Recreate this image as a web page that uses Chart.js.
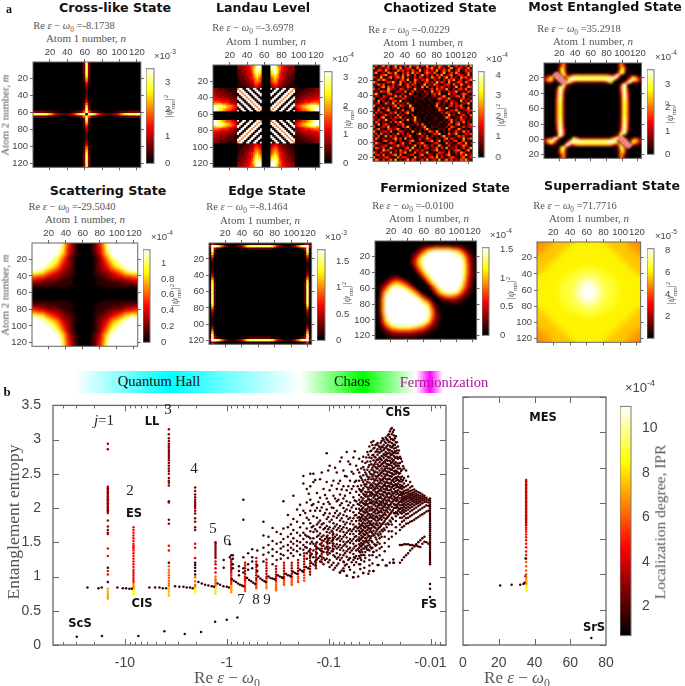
<!DOCTYPE html>
<html>
<head>
<meta charset="utf-8">
<script src="https://cdn.jsdelivr.net/npm/chart.js@4"></script>
<style>
body { margin: 0; background: #fff; width: 685px; height: 686px; overflow: hidden; position: relative; }
canvas { position: absolute; }
.lbl { position: absolute; white-space: nowrap; transform: translate(-50%, -50%); line-height: 1; }
.title { font: bold 12.6px "DejaVu Sans"; color: #111; }
.serif { font-family: "Liberation Serif"; color: #555; }
.tag { font: bold 11.5px "DejaVu Sans"; color: #111; }
sub, sup { font-size: 70%; line-height: 0; }
</style>
</head>
<body>
<script>
// heat map values, one hex digit per cell (0 = bottom of colour bar, f = top)
// the "Quarter" maps hold the top left quarter of a picture that is mirror symmetric
const crossQuarter = [
  "00000000000000000003f","00000000000000000003f","00000000000000000003f","00000000000000000003f",
  "00000000000000000003e","00000000000000000002d","00000000000000000002b","000000000000000000029",
  "000000000000000000016","000000000000000000014","000000000000000000003","000000000000000000002",
  "000000000000000000002","000000000000000000003","000000000000000000014","000000000000000000016",
  "000000000000000000029","00000000000000000002c","00000000000000000003f","33333222110000112238f",
  "ffffedb9643223469cff1"
];
// landau level map: glow above the centre squares, and the striped square itself
const landauBand = [
  "3334455779cfff","3334455689cfff","333344568adfee","223344567adfdc","223334557acecb","2233344569cdba","2223344568bca9",
  "1222334568ab98","12223345679a87","11222334569987","11222334468876","11122233457765","11112223346654","11111223345543"
];
const landauSquare = [
  "8ff10ff10ff10f","f8ff10ff10ff10","ff8ff10ff10ff1","1ff8ff10ff10ff","01ff8ff10ff10f","f01ff8ff10ff10","ff01ff8ff10ff1",
  "1ff01ff8ff10ff","01ff01ff8ff10f","f01ff01ff8ff10","ff01ff01ff8ff1","1ff01ff01ff8ff","01ff01ff01ff8f","f01ff01ff01ff8"
];
const entangledQuarter = [
  "000000169200000000000","000000279300000000000","0000013b9200000000000","0000004ca300000000000",
  "00005f3ae400000000000","1234f6f3c736899999999","369c3f6f38adeeddddddd","49ba23f6f3dfeddcccccc",
  "1453013f6fb9633333333","00000003f631000000000","000000adb310000000000","000004df7000000000000",
  "000005de6000000000000","000006ed5000000000000","000006ed4000000000000","000007dc4000000000000",
  "000007dc3000000000000","000007cc3000000000000","000007cb3000000000000","000007cb3000000000000",
  "000007cb3000000000000"
];
// the other two corners of that map have no stripe, two separate arcs instead
const entangledOpenQuarter = [
  "000000169200000000000","000000279300000000000","0000013b9200000000000","0000003cb300000000000",
  "0000001bd710000000000","012321004fd6689999999","36ad620005efedddddddd","49cfc610003adfedccccc",
  "1345df710000b96333333","000003ed4000000000000","000001cf7000000000000","000004df7000000000000",
  "000005de6000000000000","000006ed5000000000000","000006ed4000000000000","000007dc4000000000000",
  "000007dc3000000000000","000007cc3000000000000","000007cb3000000000000","000007cb3000000000000",
  "000007cb3000000000000"
];
const scatteringQuarter = [
  "fffffffffffeb86421000","fffffffffffeb86421000","fffffffffffeb75421000","ffffffffffeda75321000",
  "ffffffffffeca75321000","fffffffffeda863210000","ffffffffedb9753210000","fffffffedca8653210000",
  "ffffffedcb97543210000","fffffedcb986543210000","fffeedba9875432210000","eeedca987654332210000",
  "bbbaa8765543322110000","887776554433221110000","665553333322111100000","443332222211111100000",
  "222222211111111100000","111111111111110000000","000000000000000000000","000000000000000000000",
  "000000000000000000000"
];
const edgeQuarter = [
  "052100000000000011111","4ffda7421112358bcdddd","1e4210000000011122222","1d2000000000000000000",
  "0a1000000000000000000","070000000000000000000","040000000000000000000","020000000000000000000",
  "010000000000000000000","010000000000000000000","010000000000000000000","020000000000000000000",
  "030000000000000000000","050000000000000000000","081000000000000000000","0b1000000000000000000",
  "1c2000000000000000000","1d2000000000000000000","1d2000000000000000000","1d2000000000000000000",
  "1d2000000000000000000"
];
const superradiantQuarter = [
  "899999aaaaaaaaabbbbbb","99999aaaaaaaabbbbbbbb","9999aaaaaaaabbbbbbbbb","999aaaaaaaabbbbbbbbbb",
  "99aaaaaaaabbbbbbbbbbb","9aaaaaaaabbbbbbbbbbbb","aaaaaaaabbbbbbbbbbbbb","aaaaaaabbbbbbbbbbbbbb",
  "aaaaaabbbbbbbbbbbbbbb","aaaaabbbbbbbbbbbbbbbb","aaaabbbbbbbbbbbbbbbcc","aaabbbbbbbbbbbbbccccc",
  "aabbbbbbbbbbbbccccccc","abbbbbbbbbbbcccccccdd","bbbbbbbbbbbccccccdddd","bbbbbbbbbbccccccdddee",
  "bbbbbbbbbbcccccdddeef","bbbbbbbbbccccccddeeff","bbbbbbbbbcccccdddefff","bbbbbbbbbcccccddeffff",
  "bbbbbbbbbcccccddeffff"
];
// only the upper right lobe is typed, the lower left one is the same lobe reflected in n = m
const fermionLobe = [
  "00000 00000 00000 00000 00000 00000 0",
  "00000 00000 00001 11122 22211 11000 0",
  "00000 00000 00013 57899 99987 64210 0",
  "00000 00000 00136 9ceff fffed b8521 0",
  "00000 00000 0136a dffff fffff ec842 0",
  "00000 00000 0259d fffff fffff fea62 1",
  "00000 00000 036be fffff fffff ffb63 1",
  "00000 00000 026ad fffff fffff ffc73 1",
  "00000 00000 0048c fffff fffff ffc73 1",
  "00000 00000 0026a effff fffff ffc73 1",
  "00000 00000 00037 befff fffff ffc73 1",
  "00000 00000 00004 8cfff fffff ffb63 1",
  "00000 00000 00000 59dff fffff ffa62 1",
  "00000 00000 00000 06aef fffff fe952 0",
  "00000 00000 00000 006ae fffff fc842 0",
  "00000 00000 00000 0037b effff ea631 0",
  "00000 00000 00000 00048 bdeed b7421 0",
  "00000 00000 00000 00004 68998 64210 0",
  "00000 00000 00000 00000 23444 32100 0",
  "00000 00000 00000 00000 01122 11000 0",
  "00000 00000 00000 00000 00000 00000 0",
  "00000 00000 00000 00000 00000 00000 0",
  "00000 00000 00000 00000 00000 00000 0",
  "00000 00000 00000 00000 00000 00000 0",
  "00000 00000 00000 00000 00000 00000 0",
  "00000 00000 00000 00000 00000 00000 0",
  "00000 00000 00000 00000 00000 00000 0",
  "00000 00000 00000 00000 00000 00000 0",
  "00000 00000 00000 00000 00000 00000 0",
  "00000 00000 00000 00000 00000 00000 0",
  "00000 00000 00000 00000 00000 00000 0"
];
const chaosRows = [
  "3a15e 2c05f 381a2 e47c1 93f06 a2d81 3e05b 294a1 f",
  "d0473 8a16c 2e059 b31d7 04a8e 15c39 07f24 b816d 2",
  "15b92 e6041 d7a38 0c52f 16a49 3e07b 5d218 c04a6 9",
  "7e036 1c94f 2085b 1e6a3 07d92 c418f 05a3e 7106c 3",
  "2048a e153b 70c2d 61a05 f3928 0b6e1 47d03 a952e 1",
  "a61f3 07d28 c4e16 0390a 5271e 64c08 f1a35 0d7b2 8",
  "03c5e 91426 08b3f 12d70 a6e41 93507 2c8e1 6a049 d",
  "e8120 5a7f3 1d460 92c15 08b37 1f4a6 0e235 b91c7 0",
  "16d4b 03192 7e05c 2a811 4f063 d7215 a90c4 3e618 5",
  "5009e 2c6a1 4053b 81720 e3c15 094a7 2613f 0825d a",
  "b2714 0f853 1a926 04e13 7205a 1c683 e4071 9a3c0 6",
  "031c8 6e204 950d1 3a152 0840f 26b13 0957e 2140b 8",
  "9f402 1ab35 03712 c5021 31706 a4e02 1d385 06c92 1",
  "2630a 7041e 5b1c2 01430 25104 7318f 2064a b1d03 7",
  "c0185 23d90 41a62 30112 40231 05c92 7e130 48a16 2",
  "40e37 0519a 2f041 01320 12031 02614 a0953 1e270 b",
  "17a02 c63e0 8151c 30212 01103 1b605 12c48 0365f 1",
  "e3051 4207d 0a631 f2011 20130 2e143 06a19 7c205 3",
  "2094b 1a053 e1402 9c310 21021 05b31 f4028 1a63e 0",
  "61c20 8e216 03b15 0e102 10312 01c64 0295d 3047a 9",
  "0a374 0295c 1608e 31021 30120 21063 b8140 e5219 0",
  "d2016 b5430 c2713 09021 01203 10215 0f362 07a41 c",
  "3709e 0162a 4d051 23f12 03110 23012 e9013 5c260 7",
  "81a23 f4075 1092e 04e13 02101 32103 07c25 1a904 2",
  "0c615 2091b 6e302 11a41 20130 11240 31e06 92d35 1",
  "52e07 a6130 85c01 23091 c3012 01302 1a409 e0317 b",
  "a0148 3e025 1097f 31022 5e104 23110 61c82 04a26 9",
  "16d32 0b748 e2041 60312 09f21 01323 0b514 e7031 5",
  "e3057 91c20 4a613 0e215 030c8 2e104 1705a 32d69 0",
  "2a0c4 16053 d2809 4107e 25013 a7f12 0c36e 10485 b",
  "71b03 e2a49 01357 c0212 81a06 2309e 15024 b7a01 3",
  "0d526 0417f 3a0e1 54029 13c71 05318 e2a60 41f29 c",
  "94018 c350a 17204 9e316 0258d 14e07 3619a 05c32 1",
  "2e730 15b92 06c41 a0258 e4013 7a201 c5403 b81e0 7",
  "b0156 a2047 e3915 03e07 1c629 03f51 0a247 16d93 0",
  "3c84a 02e61 5308b 1f426 07a13 5c092 e1638 04a25 f",
  "0521f 7a308 1c462 e0593 a1205 7e314 0926b c307e 1",
  "e6093 41d25 0a7e1 32c08 46f13 02a85 1c047 3e912 5",
  "18a2c 0539e 2b014 6a027 d1385 0c462 9e105 2a6f3 8",
  "f0364 b8120 d4a95 01e36 0728c 4e193 05ba2 17d04 a",
  "4e91a 27c3f 0516e 2b804 a3e15 92f06 d4a17 3c8e5 2"
];

// colour bar ranges and tick labels of the eight maps
const crossTicks = [0, 1, 2, 3], landauTicks = [0, 1, 2, 3], chaosTicks = [0, 1, 2, 3, 4], entangledTicks = [0, 1, 2, 3];
const scatteringTicks = [0, 0.2, 0.4, 0.6, 0.8, 1], edgeTicks = [0, 0.5, 1, 1.5], fermionTicks = [0, 0.5, 1, 1.5], superradiantTicks = [2, 4, 6, 8];
const atomTicks = [20, 40, 60, 80, 100, 120];

// part b: every row is [log10 |E|, IPR in units of 1e-4, [entropy x 100, ...]]
const landauDots = [
  [1.167, 3, [294, 286, 231, 229, 227, 225, 223, 221, 219, 217, 215, 213, 211, 209, 207, 205, 203, 201, 199, 197, 195, 193, 182, 173, 168, 164, 162]],
  [1.167, 4.5, [141, 130, 108, 103]], [1.167, 1.6, [113, 92]], [1.167, 7, [82, 78, 75, 72, 70, 68]],
  [0.915, 4.7, [172, 168, 164, 160, 156, 152, 148, 145, 143, 141, 138, 134, 130, 126, 122, 118, 114, 110, 107, 104, 101, 98, 95, 92]],
  [0.915, 6.6, [89, 86, 84, 82]], [0.915, 8.5, [80, 78, 76, 74]],
  [0.568, 2.8, [315, 308, 302, 298, 294, 291, 288, 285, 282, 279, 276, 273, 270, 266, 262, 258, 254, 250, 244, 240, 237, 233, 210, 208, 183, 177]],
  [0.568, 4.4, [145, 138]], [0.568, 1.6, [120]], [0.568, 6, [115, 110, 106, 102, 98, 94, 90, 87]], [0.568, 7.5, [84, 81, 78, 75, 72]],
  [0.31, 2.7, [230, 225, 220, 216, 212, 209, 206, 203, 200, 196, 192, 185, 180, 172, 168]],
  [0.31, 4.2, [148, 142, 127]], [0.31, 1.6, [120, 117, 113, 108, 103]], [0.31, 6, [99, 93, 88, 85]], [0.31, 8.5, [82, 80, 78, 76]],
  [0.11, 2.8, [150, 148, 145, 142, 139, 136, 133, 130, 127]], [0.11, 4, [122, 118, 112, 106]], [0.11, 6, [100, 96, 93, 90, 87]], [0.11, 8, [84, 81, 78, 75]],
  [0.03, 1.6, [113, 124]], [-0.044, 1.6, [131]], [-0.044, 3.4, [125, 122, 119, 116, 113, 110, 107]], [-0.044, 5, [104, 101, 98, 95, 92, 89]], [-0.044, 7, [86, 83, 80, 77]]
];
const spikeDots = [
  [-0.18, 3.6, [120, 116, 112, 108, 104, 100, 97, 94]], [-0.18, 5.5, [91, 88, 85, 82, 79]],
  [-0.29, 3.6, [127, 122, 118, 114, 110, 106, 102, 98, 95]], [-0.29, 5.5, [92, 89, 86, 83]],
  [-0.39, 3.6, [125, 120, 116, 112, 108, 104, 100, 97]], [-0.39, 6.5, [94, 91, 88, 85, 83]],
  [-0.484, 3.6, [115, 111, 107, 103, 100, 97, 94]], [-0.484, 6, [91, 88, 85, 83, 80]],
  [-0.562, 3.6, [120, 116, 112, 108, 104, 100, 97]], [-0.562, 5.5, [94, 91, 88]],
  [-0.638, 3.4, [120, 116, 112, 108, 104, 100]], [-0.638, 5.5, [97, 94, 91, 88]],
  [-0.7, 3.4, [124, 120, 116, 112, 108, 104]], [-0.7, 5.5, [100, 97, 94, 92]],
  [-0.76, 3.2, [134, 130, 126, 122, 118, 114, 110]], [-0.76, 5.5, [106, 102, 98, 94]],
  [-0.818, 3, [139, 135, 131, 127, 123, 119, 115, 111, 107, 103]],
  [-0.876, 3, [148, 144, 140, 136, 132, 128, 124, 120, 116, 112]],
  [-0.932, 2.8, [153, 149, 145, 141, 137, 133, 129, 125, 121]],
  [-0.99, 2.5, [160, 156, 152, 148, 144, 140, 136, 132]],
  [-1.04, 2.2, [165, 161, 157, 153, 149, 145, 141, 137]]
];
const baselineDots = [
  [1.367, 1.6, [84]], [1.259, 1.6, [83]], [1.227, 1.6, [84]], [1.073, 1.6, [84]], [1.02, 1.6, [83]], [0.988, 1.6, [83]], [0.955, 1.6, [82]], [0.932, 1.6, [82]],
  [0.759, 1.6, [84]], [0.703, 1.6, [84]], [0.661, 1.6, [84]], [0.628, 1.6, [83]], [0.595, 1.6, [83]],
  [0.507, 1.6, [86]], [0.465, 1.6, [85]], [0.425, 1.6, [85]], [0.393, 1.6, [84]], [0.36, 1.6, [84]], [0.334, 1.6, [83]],
  [0.278, 1.6, [92]], [0.245, 1.6, [90]], [0.213, 1.6, [88]], [0.18, 1.6, [87]], [0.147, 1.6, [86]], [0.125, 1.6, [85]],
  [0.09, 1.6, [90]], [0.065, 1.6, [88]], [0.033, 1.6, [86]], [0.0, 1.6, [85]], [-0.02, 1.6, [84]],
  [-0.05, 1.6, [96]], [-0.07, 1.6, [94]], [-0.09, 1.6, [92]], [-0.11, 1.6, [90]], [-0.13, 1.6, [88]], [-0.15, 1.6, [87]], [-0.165, 1.6, [86]],
  [-0.2, 1.6, [98]], [-0.22, 1.6, [95]], [-0.24, 1.6, [93]], [-0.26, 1.6, [91]], [-0.28, 1.6, [89]],
  [-0.31, 1.6, [100]], [-0.33, 1.6, [97]], [-0.35, 1.6, [95]], [-0.37, 1.6, [93]], [-0.385, 1.6, [92]],
  [-0.41, 1.6, [100]], [-0.43, 1.6, [98]], [-0.45, 1.6, [97]], [-0.47, 1.6, [96]],
  [-0.5, 1.6, [102]], [-0.52, 1.6, [100]], [-0.54, 1.6, [99]], [-0.55, 1.6, [98]],
  [-0.58, 1.6, [104]], [-0.6, 1.6, [102]], [-0.62, 1.6, [101]], [-0.63, 1.6, [100]],
  [-0.65, 1.6, [107]], [-0.67, 1.6, [105]], [-0.69, 1.6, [104]], [-0.72, 1.6, [110]], [-0.74, 1.6, [108]], [-0.75, 1.6, [107]],
  [-0.78, 1.6, [114]], [-0.8, 1.6, [112]], [-0.83, 1.6, [120]], [-0.85, 1.6, [118]], [-0.87, 1.6, [116]]
];
const scatteringDots = [
  [1.472, 1.4, [12]], [1.225, 1.4, [13]], [0.867, 1.4, [13]], [0.612, 1.4, [20]], [0.412, 1.4, [16]], [0.252, 1.4, [19]],
  [0.114, 1.4, [34]], [0.0, 1.4, [37]], [-0.105, 1.4, [40]]
];
const spreadDots = [
  [-0.03, 1.6, [147, 128]], [-0.06, 1.6, [131, 126, 118, 112]], [-0.12, 1.6, [115, 108, 102]], [-0.163, 1.6, [212, 183, 128, 112, 106]],
  [-0.21, 1.6, [134, 118, 110]], [-0.25, 1.6, [140, 128, 122, 112]], [-0.3, 1.6, [138, 116, 108]], [-0.36, 1.6, [180, 160, 142, 132, 122]],
  [-0.41, 1.6, [158, 146, 135]], [-0.45, 1.6, [171, 152, 140, 130, 118]], [-0.49, 1.6, [165, 148, 136, 124]], [-0.53, 1.6, [162, 150, 141, 133, 126]],
  [-0.556, 1.6, [210, 170, 155, 144, 131]], [-0.6, 1.6, [190, 172, 158, 146, 138, 127]], [-0.63, 1.6, [176, 162, 151, 142, 134]], [-0.654, 1.6, [218, 184, 168, 156, 148, 139, 130]],
  [-0.69, 1.6, [198, 180, 164, 152, 145, 137]], [-0.72, 1.6, [205, 190, 172, 160, 150, 141, 132]], [-0.752, 1.6, [247, 236, 196, 178, 164, 155, 146, 139]], [-0.785, 1.6, [228, 208, 186, 170, 159, 150, 142, 134, 126]],
  [-0.82, 1.6, [250, 232, 212, 196, 178, 166, 156, 148, 140, 130]], [-0.85, 1.6, [250, 238, 206, 188, 174, 165, 156, 148, 138, 128]], [-0.885, 1.6, [222, 200, 186, 176, 166, 158, 150, 142, 134, 125]], [-0.916, 1.6, [242, 215, 196, 182, 172, 163, 155, 147, 139, 130, 122]],
  [-0.95, 1.6, [228, 206, 190, 178, 169, 160, 152, 145, 136, 127, 118]], [-0.981, 1.6, [280, 238, 214, 198, 184, 174, 165, 158, 150, 143, 135, 126]], [-1.01, 1.6, [262, 226, 206, 192, 180, 172, 164, 156, 149, 142, 134, 124, 114]], [-1.047, 1.6, [240, 218, 200, 188, 178, 170, 162, 155, 148, 140, 131, 120, 110]],
  [-1.08, 1.6, [252, 228, 210, 196, 186, 176, 168, 161, 154, 147, 141, 134, 126, 116]], [-1.112, 1.6, [268, 240, 220, 204, 192, 182, 174, 166, 159, 152, 146, 139, 132, 124, 106]], [-1.145, 1.6, [255, 232, 214, 200, 190, 180, 172, 165, 158, 151, 145, 138, 131, 122, 112]], [-1.177, 1.6, [282, 246, 226, 210, 198, 188, 179, 171, 164, 157, 150, 144, 137, 129, 118, 101]],
  [-1.21, 1.6, [264, 240, 222, 208, 196, 186, 177, 169, 162, 155, 149, 142, 135, 127, 110]], [-1.243, 1.6, [274, 250, 232, 216, 204, 194, 185, 176, 169, 162, 155, 148, 141, 133, 124, 99]], [-1.27, 1.6, [262, 240, 224, 210, 199, 190, 181, 173, 166, 159, 152, 145, 138, 130, 121]]
];
// second pass over the same region, dots that sit between the columns above
const spreadGapDots = [
  [-0.77, 1.6, [193, 161, 143]], [-0.805, 1.6, [221, 183, 158, 137]], [-0.835, 1.6, [204, 172, 151, 133]], [-0.868, 1.6, [241, 196, 169, 145, 122]],
  [-0.9, 1.6, [209, 179, 160, 141, 127]], [-0.932, 1.6, [252, 201, 176, 158, 137]], [-0.965, 1.6, [219, 193, 171, 155, 141, 124]], [-0.996, 1.6, [255, 209, 187, 169, 153, 139, 121]],
  [-1.03, 1.6, [233, 201, 183, 167, 152, 137, 117]], [-1.063, 1.6, [259, 214, 193, 173, 158, 144, 129, 113]], [-1.096, 1.6, [236, 212, 189, 171, 156, 143, 128, 119]], [-1.128, 1.6, [274, 227, 207, 185, 169, 155, 142, 127, 109]],
  [-1.16, 1.6, [247, 218, 195, 176, 161, 147, 134, 116]], [-1.193, 1.6, [268, 232, 204, 184, 167, 152, 140, 124]], [-1.226, 1.6, [253, 228, 201, 181, 166, 152, 138, 121]], [-1.256, 1.6, [283, 238, 211, 189, 172, 158, 144, 127]],
  [-1.285, 1.6, [256, 232, 206, 186, 170, 154, 140, 126]]
];
const chaosDots = [
  [-1.3, 1.6, [272, 252, 240, 228, 219, 212, 205, 199, 193, 187, 182, 177, 172, 167, 162, 157, 152, 147, 142, 137, 130, 118]],
  [-1.32, 1.6, [258, 244, 233, 224, 216, 209, 203, 197, 191, 186, 181, 175, 170, 165, 160, 155, 149, 144, 139, 131, 124]],
  [-1.34, 1.6, [275, 260, 248, 238, 229, 221, 214, 207, 201, 195, 190, 184, 179, 174, 168, 163, 158, 152, 147, 141, 132, 148, 105]],
  [-1.36, 1.6, [266, 252, 241, 232, 224, 217, 210, 204, 198, 193, 187, 182, 177, 171, 166, 161, 156, 150, 144, 136, 127]],
  [-1.38, 1.6, [282, 268, 256, 246, 238, 230, 223, 217, 211, 205, 199, 194, 189, 184, 178, 173, 168, 163, 157, 151, 145, 139]],
  [-1.4, 1.6, [290, 274, 263, 253, 245, 237, 230, 224, 218, 212, 207, 201, 196, 191, 186, 180, 175, 170, 165, 159, 153, 146, 138, 108]],
  [-1.42, 1.6, [296, 284, 273, 264, 256, 249, 242, 235, 229, 223, 218, 212, 207, 202, 197, 191, 186, 181, 176, 171, 165, 159, 152, 141]],
  [-1.44, 1.6, [298, 287, 278, 270, 262, 255, 249, 243, 237, 231, 226, 220, 215, 210, 205, 199, 194, 189, 184, 178, 173, 167, 160, 136, 108]],
  [-1.46, 1.6, [292, 282, 274, 267, 260, 253, 247, 241, 235, 229, 224, 219, 213, 208, 203, 197, 192, 187, 182, 176, 171, 164, 157, 145]],
  [-1.48, 1.6, [295, 286, 278, 271, 264, 258, 252, 246, 240, 234, 229, 223, 218, 213, 207, 202, 197, 192, 186, 181, 175, 169, 162, 150, 117]],
  [-1.5, 1.6, [289, 281, 274, 267, 261, 255, 249, 243, 237, 232, 226, 221, 215, 210, 205, 200, 194, 189, 184, 178, 172, 165, 156]],
  [-1.52, 1.6, [298, 290, 283, 276, 270, 264, 258, 252, 247, 241, 236, 230, 225, 220, 214, 209, 204, 199, 194, 188, 183, 176, 168, 158, 143]],
  [-1.54, 1.6, [300, 292, 285, 279, 273, 267, 261, 255, 250, 244, 239, 233, 228, 223, 218, 212, 207, 202, 197, 191, 186, 179, 170]],
  [-1.56, 1.6, [303, 295, 288, 282, 276, 270, 265, 259, 254, 248, 243, 237, 232, 227, 222, 216, 211, 206, 201, 196, 190, 184, 176, 116]],
  [-1.58, 1.6, [306, 299, 292, 286, 280, 275, 269, 264, 258, 253, 248, 242, 237, 232, 226, 221, 216, 211, 205, 200, 194, 187, 178]],
  [-1.6, 1.6, [312, 304, 297, 291, 285, 280, 274, 269, 263, 258, 252, 247, 242, 236, 231, 226, 221, 215, 210, 204, 198, 191, 182, 120]],
  [-1.62, 1.6, [317, 308, 301, 295, 289, 283, 278, 272, 267, 262, 256, 251, 246, 240, 235, 230, 224, 219, 214, 208, 202, 195, 186]],
  [-1.64, 1.6, [314, 306, 299, 293, 287, 281, 276, 270, 265, 259, 254, 249, 243, 238, 233, 228, 222, 217, 212, 206, 200, 193, 120]],
  [-1.66, 1.6, [305, 296, 288, 280, 273, 267, 261, 255, 250, 245, 240, 235, 230, 225, 220, 215, 210, 205, 200, 194, 188]],
  [-1.68, 1.6, [290, 280, 272, 265, 258, 252, 246, 241, 236, 231, 226, 221, 216, 211, 206, 201, 196, 191]],
  [-1.7, 1.6, [275, 266, 258, 251, 245, 239, 234, 229, 224, 219, 214, 209, 204, 199, 194, 146, 120]],
  [-1.72, 1.6, [268, 256, 246, 239, 233, 228, 223, 219, 216, 212, 208, 204, 200, 196, 192, 186, 180, 172, 146, 124]],
  [-1.74, 1.6, [258, 244, 236, 230, 225, 221, 217, 214, 210, 206, 202, 198, 194, 188, 182, 174, 147, 128]],
  [-1.76, 1.6, [255, 240, 232, 226, 222, 218, 215, 212, 208, 204, 200, 196, 191, 185, 177, 147, 131]],
  [-1.78, 1.6, [246, 234, 227, 223, 220, 217, 214, 210, 206, 202, 198, 192, 186, 178, 147, 134]],
  [-1.8, 1.6, [238, 230, 225, 221, 218, 215, 212, 208, 204, 200, 195, 188, 180, 146, 138]],
  [-1.82, 1.6, [232, 226, 222, 219, 216, 213, 210, 206, 202, 197, 190, 181, 146, 141]],
  [-1.84, 1.6, [227, 223, 220, 217, 214, 211, 208, 204, 199, 192, 183, 145, 144]],
  [-1.86, 1.6, [225, 221, 218, 215, 212, 209, 206, 201, 194, 185, 147, 145]],
  [-1.88, 1.6, [223, 219, 216, 213, 210, 207, 203, 196, 187, 150, 144]],
  [-1.9, 1.6, [222, 218, 215, 212, 209, 205, 198, 189, 153, 143]],
  [-1.92, 1.6, [220, 217, 214, 211, 207, 200, 191, 156, 148]],
  [-1.94, 1.6, [218, 215, 212, 209, 202, 193, 158, 151]],
  [-1.96, 1.6, [215, 212, 209, 204, 195, 150]],
  [-1.98, 1.6, [212, 208, 203, 196, 148]],
  [-1.995, 1.6, [214, 211, 208, 205, 202, 199, 196, 193, 190, 187, 184, 181, 178, 175, 172, 169, 166, 163, 160, 157, 154, 151, 148, 145, 142, 139, 136, 133, 130, 127, 124, 121, 118, 89, 82, 70]],
  [-1.11, 1.6, [106]], [-1.18, 1.6, [101]], [-1.24, 1.6, [99]], [-1.29, 1.6, [100]], [-1.34, 1.6, [105]], [-1.39, 1.6, [104, 139]], [-1.44, 1.6, [108, 136]], [-1.49, 1.6, [117]], [-1.53, 1.6, [124]], [-1.57, 1.6, [116]], [-1.635, 1.6, [120, 125]]
];
const chaosGapDots = [
  [-1.31, 1.6, [246, 226, 208, 196, 184, 174, 164, 154, 145, 135]], [-1.33, 1.6, [268, 241, 226, 211, 199, 188, 177, 167, 157, 146, 136]],
  [-1.35, 1.6, [256, 235, 219, 206, 194, 183, 172, 161, 151, 141]], [-1.37, 1.6, [274, 249, 235, 220, 207, 196, 185, 174, 164, 153, 142]],
  [-1.39, 1.6, [278, 260, 242, 227, 214, 202, 191, 181, 171, 160, 149]], [-1.41, 1.6, [283, 268, 250, 233, 221, 209, 198, 188, 178, 168, 156, 143]],
  [-1.43, 1.6, [292, 277, 259, 246, 233, 221, 209, 199, 187, 175, 163, 150]], [-1.45, 1.6, [288, 275, 264, 252, 240, 228, 217, 206, 195, 184, 172, 161, 147]],
  [-1.47, 1.6, [293, 283, 270, 258, 244, 232, 221, 210, 199, 188, 178, 167, 154]], [-1.49, 1.6, [291, 282, 271, 261, 248, 236, 225, 215, 204, 194, 183, 171, 160]],
  [-1.51, 1.6, [295, 286, 272, 262, 251, 240, 228, 217, 207, 196, 186, 174, 162]], [-1.53, 1.6, [302, 289, 276, 265, 254, 242, 231, 220, 210, 200, 189, 177, 166]],
  [-1.55, 1.6, [297, 287, 278, 268, 257, 246, 235, 224, 214, 204, 193, 181, 168]], [-1.57, 1.6, [301, 290, 279, 271, 261, 250, 239, 229, 219, 208, 197, 185, 172]],
  [-1.59, 1.6, [308, 296, 284, 274, 263, 253, 243, 233, 222, 212, 202, 189, 176]], [-1.61, 1.6, [315, 301, 289, 277, 266, 256, 246, 237, 227, 217, 206, 193, 180]],
  [-1.63, 1.6, [311, 300, 291, 280, 269, 259, 249, 241, 232, 221, 210, 197, 184]], [-1.65, 1.6, [302, 292, 283, 274, 264, 253, 244, 234, 224, 214, 204, 192]],
  [-1.67, 1.6, [296, 284, 275, 262, 253, 243, 233, 223, 213, 203, 193]], [-1.69, 1.6, [284, 273, 262, 250, 240, 230, 219, 208, 198]],
  [-1.71, 1.6, [272, 254, 242, 231, 221, 210, 200, 193]], [-1.73, 1.6, [261, 241, 231, 222, 213, 205, 197]]
];
// thin lower edge of the chaotic region
const chaosLowDots = [
  [-1.15, 1.6, [121, 108]], [-1.2, 1.6, [126, 114]], [-1.25, 1.6, [128, 117, 106]], [-1.31, 1.6, [127, 118, 111]], [-1.35, 1.6, [131, 122, 113]],
  [-1.4, 1.6, [131, 124, 116]], [-1.43, 1.6, [142, 131, 119]], [-1.47, 1.6, [146, 138, 128]], [-1.5, 1.6, [148, 141, 131]], [-1.55, 1.6, [158, 149, 137]],
  [-1.59, 1.6, [166, 155, 144]], [-1.62, 1.6, [176, 166, 158]], [-1.66, 1.6, [181, 172, 163]], [-1.7, 1.6, [186, 176, 168]]
];
// right hand part of b, first column here is E itself
const mesDots = [
  [35.3, 3.8, [233, 231, 229, 227, 225, 223, 221, 219, 217, 215, 213, 211, 209, 207, 205, 203, 201, 199, 197, 195, 193, 191, 189, 187, 185, 183, 181, 179, 177, 175, 173, 171, 169]],
  [35.3, 4.6, [166, 163, 160, 156, 152, 148, 143, 138, 132, 127, 122]], [35, 1.6, [122, 97]], [35.3, 5.8, [117, 111, 105, 100, 96]],
  [35.4, 7, [93, 91, 89, 87, 85]], [35.4, 8.5, [83, 81, 79, 77]], [20.8, 1.6, [84]], [27.2, 1.6, [85]], [32, 1.6, [85]], [33.8, 1.6, [86]], [34.4, 1.6, [88]], [71.8, 1.4, [10]]
];
const sideTicks = [0, 20, 40, 60, 80], sideTopTicks = [20, 40, 60];
const energyTicks = [10, 1, 0.1, 0.01];
const energyMinor = [40, 30, 20, 9, 8, 7, 6, 5, 4, 3, 2, 0.9, 0.8, 0.7, 0.6, 0.5, 0.4, 0.3, 0.2, 0.09, 0.08, 0.07, 0.06, 0.05, 0.04, 0.03, 0.02, 0.009, 0.008];
const entropyTicks = [0, 0.5, 1, 1.5, 2, 2.5, 3, 3.5];
const iprTicks = [2, 4, 6, 8, 10];

const GRAY = "#666";
const TICK_TEXT = "#444";

function hot(t)
{
  t = Math.min(1, Math.max(0, t));
  let r = Math.min(1, t / 0.375);
  let g = Math.min(1, Math.max(0, (t - 0.375) / 0.375));
  let b = Math.max(0, (t - 0.75) / 0.25);
  return "rgb(" + Math.round(r * 255) + "," + Math.round(g * 255) + "," + Math.round(b * 255) + ")";
}

function flipped(row)
{
  return row.slice(0, -1).split("").reverse().join("");
}

function mirrorRows(quarter)
{
  let top = quarter.map(row => row + flipped(row));
  return top.concat(top.slice(0, -1).reverse());
}

// a = top left and bottom right corners, b = top right and bottom left corners
function mirrorTwoCorners(a, b)
{
  let top = a.map((row, i) => row + flipped(b[i]));
  let bottom = b.map((row, i) => row + flipped(a[i])).slice(0, -1).reverse();
  return top.concat(bottom);
}

function buildLandauQuarter()
{
  let rows = landauBand.map(row => "00000000000000" + row + "000");
  landauSquare.forEach((row, i) =>
  {
    let left = landauBand.map(band => band[i]).join("");
    rows.push(left + row + "000");
  });
  for (let i = 0; i < 3; i++) rows.push("0000000000000000000000000000000");
  return rows;
}

function reflectLobe(rows)
{
  let clean = rows.map(row => row.replace(/ /g, ""));
  return clean.map((row, i) => row.split("").map((c, j) =>
    parseInt(c, 16) >= parseInt(clean[j][i], 16) ? c : clean[j][i]).join(""));
}

// frame round the plot area
const framePlugin = {
  id: "frame",
  afterDraw(chart, args, opts)
  {
    let a = chart.chartArea, ctx = chart.ctx;
    ctx.save();
    ctx.strokeStyle = opts.color || GRAY;
    ctx.lineWidth = opts.width || 1;
    ctx.strokeRect(a.left, a.top, a.width, a.height);
    ctx.restore();
  }
};

// softens the map cells the way the printed figure looks
const softenPlugin = {
  id: "soften",
  afterDatasetsDraw(chart, args, opts)
  {
    if (!opts.radius) return;
    let a = chart.chartArea, ctx = chart.ctx;
    ctx.save();
    ctx.beginPath();
    ctx.rect(a.left, a.top, a.width, a.height);
    ctx.clip();
    ctx.filter = "blur(" + opts.radius + "px)";
    ctx.drawImage(chart.canvas, 0, 0);
    ctx.restore();
  }
};

// inward ticks of part b, chart.js only gives the outward kind
const inwardPlugin = {
  id: "inward",
  afterDraw(chart, args, opts)
  {
    if (!opts.x) return;
    let a = chart.chartArea, ctx = chart.ctx;
    let xs = chart.scales.x, ys = chart.scales.y;
    ctx.save();
    ctx.strokeStyle = GRAY;
    ctx.lineWidth = 1;
    ctx.beginPath();
    function tickX(v, len, top)
    {
      let p = Math.round(xs.getPixelForValue(v)) + 0.5;
      if (top) { ctx.moveTo(p, a.top); ctx.lineTo(p, a.top + len); }
      else { ctx.moveTo(p, a.bottom); ctx.lineTo(p, a.bottom - len); }
    }
    opts.x.forEach(v => { tickX(v, 6, false); });
    (opts.xTop || opts.x).forEach(v => { tickX(v, 6, true); });
    (opts.minor || []).forEach(v => { tickX(v, 3, false); tickX(v, 3, true); });
    entropyTicks.forEach(v =>
    {
      let p = Math.round(ys.getPixelForValue(v)) + 0.5;
      ctx.moveTo(a.left, p); ctx.lineTo(a.left + 6, p);
      ctx.moveTo(a.right, p); ctx.lineTo(a.right - 6, p);
    });
    ctx.stroke();
    ctx.restore();
  }
};
Chart.register(framePlugin, inwardPlugin, softenPlugin);

function addCanvas(x, y, w, h)
{
  let $canvas = document.createElement("canvas");
  $canvas.width = w;
  $canvas.height = h;
  $canvas.style.left = x + "px";
  $canvas.style.top = y + "px";
  $canvas.style.width = w + "px";
  $canvas.style.height = h + "px";
  document.body.append($canvas);
  return $canvas;
}

function addLabel(html, x, y, cls, style)
{
  let $label = document.createElement("div");
  $label.className = "lbl " + (cls || "");
  $label.innerHTML = html;
  $label.style.left = x + "px";
  $label.style.top = y + "px";
  if (style) $label.style.cssText += style;
  document.body.append($label);
}

function setTicks(values)
{
  return function (scale) { scale.ticks = values.map(v => ({ value: v })); };
}
function fixWidth(w) { return function (scale) { scale.width = w; }; }
function fixHeight(h) { return function (scale) { scale.height = h; }; }

const quietOptions = {
  responsive: false,
  animation: false,
  events: [],
  layout: { padding: 0 }
};

function drawHeat(panel)
{
  const ML = 27, MT = 17, MR = 5, MB = 5;
  let [px, py, pw, ph] = panel.plot;
  let rows = panel.rows;
  let n = rows.length;
  let cellPx = pw / n;
  let cells = [], colors = [];
  rows.forEach((row, i) =>
  {
    row.split("").forEach((c, j) =>
    {
      let level = parseInt(c, 16) / 15 * (panel.dim || 1);
      cells.push({ x: 0.5 + (j + 0.5) * 124 / n, y: 0.5 + (i + 0.5) * 124 / n });
      colors.push(hot(level));
    });
  });
  let datasets = [{
    data: cells,
    pointStyle: "rect",
    pointRadius: (cellPx / 2 + 0.35) * Math.SQRT2,
    pointBorderWidth: 0,
    pointBackgroundColor: colors,
    showLine: false
  }];
  if (panel.diagonal)
  {
    datasets.push({
      data: [{ x: 1, y: 1 }, { x: 124, y: 124 }],
      showLine: true,
      borderColor: panel.diagonal,
      borderWidth: 1.2,
      pointRadius: 0
    });
  }
  let tickStyle = { color: GRAY, lineWidth: 1, tickLength: 3, drawOnChartArea: false };
  let tickFont = { family: "Liberation Sans", size: 9.5 };
  let yLabels = panel.clipLabels || {};
  new Chart(addCanvas(px - ML, py - MT, pw + ML + MR, ph + MT + MB), {
    type: "scatter",
    data: { datasets: datasets },
    options: Object.assign({}, quietOptions, {
      plugins: { legend: { display: false }, tooltip: { enabled: false }, frame: {}, inward: {}, soften: { radius: panel.soft } },
      scales: {
        x: { type: "linear", position: "top", min: 0.5, max: 124.5, afterBuildTicks: setTicks(atomTicks), afterFit: fixHeight(MT),
          grid: tickStyle, border: { display: false },
          ticks: { color: TICK_TEXT, font: tickFont, padding: 1, maxRotation: 0, autoSkip: false } },
        y: { type: "linear", position: "left", reverse: true, min: 0.5, max: 124.5, afterBuildTicks: setTicks(atomTicks), afterFit: fixWidth(ML),
          grid: tickStyle, border: { display: false },
          ticks: { color: TICK_TEXT, font: tickFont, padding: 2, autoSkip: false, callback: v => (v in yLabels ? yLabels[v] : String(v)) } },
        xBottom: { type: "linear", position: "bottom", min: 0.5, max: 124.5, afterBuildTicks: setTicks(atomTicks), afterFit: fixHeight(MB),
          grid: tickStyle, border: { display: false }, ticks: { display: false } },
        yRight: { type: "linear", position: "right", reverse: true, min: 0.5, max: 124.5, afterBuildTicks: setTicks(atomTicks), afterFit: fixWidth(MR),
          grid: tickStyle, border: { display: false }, ticks: { display: false } }
      }
    })
  });
  drawBar(panel.bar[0], py, panel.bar[1], ph, panel.min || 0, panel.max, panel.ticks, 9.5, 1);
}

function drawBar(x, y, w, h, min, max, ticks, fontSize, frameWidth)
{
  const MR = 26, PAD = 2;
  let steps = [];
  for (let i = 0; i < 64; i++)
  {
    let lo = min + (max - min) * i / 64;
    let hi = min + (max - min) * (i + 1.3) / 64;
    steps.push({ data: [[lo, Math.min(hi, max)]], backgroundColor: hot((i + 0.5) / 64), barPercentage: 1, categoryPercentage: 1, borderWidth: 0 });
  }
  new Chart(addCanvas(x, y - PAD, w + MR, h + 2 * PAD), {
    type: "bar",
    data: { labels: ["c"], datasets: steps },
    options: Object.assign({}, quietOptions, {
      layout: { padding: { top: PAD, bottom: PAD } },
      plugins: { legend: { display: false }, tooltip: { enabled: false }, frame: { color: "#777", width: frameWidth }, inward: {}, soften: {} },
      scales: {
        x: { stacked: true, display: false },
        y: { position: "right", min: min, max: max, afterBuildTicks: setTicks(ticks), afterFit: fixWidth(MR),
          grid: { display: false }, border: { display: false },
          ticks: { color: TICK_TEXT, font: { family: "Liberation Sans", size: fontSize }, padding: 3, autoSkip: false, callback: v => String(v) } }
      }
    })
  });
}

const panels = [
  { title: "Cross-like State", tx: 115, ty: 7, eq: "-8.1738", ex: 74, ey: 26, ax: 86, ay: 38, rows: mirrorRows(crossQuarter), dim: 0.87, soft: 0.6, max: 3.52, ticks: crossTicks, exp: "-3", plot: [33, 62, 108, 108], bar: [146, 8], psi: [169, 106], yTitle: [5, 115] },
  { title: "Landau Level", tx: 263, ty: 7, eq: "-3.6978", ex: 253, ey: 28, ax: 266, ay: 41, rows: mirrorRows(buildLandauQuarter()), soft: 0.4, max: 3.2, ticks: landauTicks, exp: "-4", plot: [213, 65, 107, 105], bar: [324, 8], psi: [348, 117] },
  { title: "Chaotized State", tx: 440, ty: 7, eq: "-0.0229", ex: 409, ey: 30, ax: 423, ay: 42, rows: chaosRows.map(r => r.replace(/ /g, "")), dim: 0.62, soft: 0.6, max: 4.17, ticks: chaosTicks, exp: "-4", plot: [373, 65, 100, 99], bar: [478, 6.5], psi: [501, 115], clipLabels: { 100: "00", 120: "20" } },
  { title: "Most Entangled State", tx: 605, ty: 6, eq: "35.2918", ex: 579, ey: 29, ax: 593, ay: 41, rows: mirrorTwoCorners(entangledQuarter, entangledOpenQuarter), soft: 0.8, max: 3.62, ticks: entangledTicks, exp: "-4", plot: [544, 63, 98, 98], bar: [647, 7], psi: [670, 112], clipLabels: { 100: "00", 120: "20" } },
  { title: "Scattering State", tx: 108, ty: 190, eq: "-29.5040", ex: 72, ey: 207, ax: 85, ay: 219, rows: mirrorRows(scatteringQuarter), soft: 1.4, max: 1.17, ticks: scatteringTicks, exp: "-4", plot: [32, 243, 106, 106], bar: [143, 7], psi: [175, 295], yTitle: [5, 295], diagonal: "#111" },
  { title: "Edge State", tx: 267, ty: 190, eq: "-8.1464", ex: 247, ey: 207, ax: 260, ay: 220, rows: mirrorRows(edgeQuarter), soft: 0.6, max: 1.72, ticks: edgeTicks, exp: "-3", plot: [209, 243, 103, 104], bar: [317, 8], psi: [347, 293], clipLabels: { 100: "00" } },
  { title: "Fermionized State", tx: 445, ty: 187, eq: "-0.0100", ex: 413, ey: 206, ax: 429, ay: 218, rows: reflectLobe(fermionLobe), soft: 1.8, max: 1.53, ticks: fermionTicks, exp: "-4", plot: [375, 241, 102, 101], bar: [482, 7], psi: [511, 288] },
  { title: "Superradiant State", tx: 612, ty: 185, eq: "71.7716", ex: 575, ey: 206, ax: 589, ay: 218, rows: mirrorRows(superradiantQuarter), soft: 3, max: 8.13, ticks: superradiantTicks, exp: "-5", plot: [537, 242, 104, 103], bar: [647, 7], psi: [671, 293], diagonal: "#444" }
];

function expandDots(rows, isLog)
{
  let points = [], colors = [];
  rows.forEach(([e, ipr, entropies]) =>
  {
    entropies.forEach(s =>
    {
      points.push({ x: isLog ? Math.pow(10, e) : e, y: s / 100 });
      colors.push(hot((ipr - 0.67) / (11 - 0.67)));
    });
  });
  return { data: points, pointBackgroundColor: colors, pointRadius: 1.25, pointBorderWidth: 0, showLine: false };
}

function drawMain(x, y, w, h, xScale, datasets, ticksOpts, showY)
{
  const ML = showY ? 32 : 8, MR = 12, MT = 4, MB = 24;
  let font = { family: "Liberation Sans", size: 14 };
  new Chart(addCanvas(x - ML, y - MT, w + ML + MR, h + MT + MB), {
    type: "scatter",
    data: { datasets: datasets },
    options: Object.assign({}, quietOptions, {
      plugins: { legend: { display: false }, tooltip: { enabled: false }, frame: { width: 1.3 }, inward: ticksOpts, soften: {} },
      scales: {
        x: Object.assign(xScale, { position: "bottom", afterFit: fixHeight(MB), grid: { display: false }, border: { display: false } }),
        y: { type: "linear", min: 0, max: 3.5, afterBuildTicks: setTicks(entropyTicks), afterFit: fixWidth(ML),
          grid: { display: false }, border: { display: false },
          ticks: { display: showY, color: TICK_TEXT, font: font, padding: 4, autoSkip: false, callback: v => String(v) } },
        yRight: { type: "linear", position: "right", display: true, min: 0, max: 3.5, afterFit: fixWidth(MR), grid: { display: false }, border: { display: false }, ticks: { display: false } },
        xTop: { type: "linear", position: "top", display: true, min: 0, max: 1, afterFit: fixHeight(MT), grid: { display: false }, border: { display: false }, ticks: { display: false } }
      }
    })
  });
}

function initPage()
{
  panels.forEach(panel =>
  {
    drawHeat(panel);
    addLabel(panel.title, panel.tx, panel.ty, "title");
    addLabel("Re <i>ε</i> − <i>ω</i><sub>0</sub> =" + panel.eq, panel.ex, panel.ey, "serif", "font-size:10.5px;");
    addLabel("Atom 1 number, <i>n</i>", panel.ax, panel.ay, "serif", "font-size:11px;");
    addLabel("×10<sup>" + panel.exp + "</sup>", panel.bar[0] + 19, panel.plot[1] - 7, "", "font:9.5px 'Liberation Sans';color:#444;");
    addLabel("|<i>ψ</i><sub>mn</sub>|<sup>2</sup>", panel.psi[0], panel.psi[1], "serif", "font-size:10px;transform:translate(-50%,-50%) rotate(-90deg);");
    if (panel.yTitle)
    {
      addLabel("Atom 2 number, <i>m</i>", panel.yTitle[0], panel.yTitle[1], "serif", "font-size:10.8px;transform:translate(-50%,-50%) rotate(-90deg);");
    }
  });

  // part b
  let logRows = [scatteringDots, spreadDots, spreadGapDots, chaosLowDots, chaosDots, chaosGapDots, baselineDots, spikeDots, landauDots];
  drawMain(53, 397, 393, 248,
    { type: "logarithmic", reverse: true, min: 0.00705, max: 50.7, afterBuildTicks: setTicks(energyTicks),
      ticks: { color: TICK_TEXT, font: { family: "Liberation Sans", size: 14 }, padding: 2, maxRotation: 0, autoSkip: false, callback: v => "-" + v } },
    logRows.map(rows => expandDots(rows, true)),
    { x: energyTicks, minor: energyMinor }, true);
  drawMain(463, 397, 143, 248,
    { type: "linear", min: 0, max: 80, afterBuildTicks: setTicks(sideTicks),
      ticks: { color: TICK_TEXT, font: { family: "Liberation Sans", size: 14 }, padding: 2, maxRotation: 0, autoSkip: false, callback: v => String(v) } },
    [expandDots(mesDots, false)],
    { x: sideTopTicks, xTop: sideTopTicks }, false);
  drawBar(620, 397, 11, 248, 0.67, 11, iprTicks, 14, 1);

  addLabel("×10<sup>-4</sup>", 640, 387, "", "font:13px 'Liberation Sans';color:#444;");
  addLabel("Localization degree, IPR", 660, 522, "serif", "font-size:15.5px;transform:translate(-50%,-50%) rotate(-90deg);");
  addLabel("Entanglement entropy", 14, 522, "serif", "font-size:17.5px;transform:translate(-50%,-50%) rotate(-90deg);");
  addLabel("Re <i>ε</i> − <i>ω</i><sub>0</sub>", 227, 677, "serif", "font-size:17px;");
  addLabel("Re <i>ε</i> − <i>ω</i><sub>0</sub>", 517, 677, "serif", "font-size:17px;");

  let $band = document.createElement("div");
  $band.style.cssText = "position:absolute;left:75px;top:371px;width:368px;height:22px;background:linear-gradient(90deg,#fff 0,#0ff 95px,#fff 225px,#0f0 288px,#fff 341px,#f0f 355px,#fff 368px);";
  document.body.append($band);
  addLabel("Quantum Hall", 159, 381, "serif", "font-size:14.5px;color:#111;");
  addLabel("Chaos", 352, 381, "serif", "font-size:14.5px;color:#111;");
  addLabel("Fermionization", 444, 382, "serif", "font-size:14.5px;color:#b0109a;");

  addLabel("a", 9, 9, "", "font:bold 12px 'Liberation Serif';color:#111;");
  addLabel("b", 7, 392, "", "font:bold 13px 'Liberation Serif';color:#111;");

  addLabel("<i>j</i>=1", 104, 420, "serif", "font-size:15px;color:#222;");
  [["2", 130, 490], ["3", 168, 409], ["4", 194, 468], ["5", 213, 528], ["6", 227, 540], ["7", 241, 599], ["8", 256, 599], ["9", 267, 599]].forEach(n =>
  {
    addLabel(n[0], n[1], n[2], "serif", "font-size:15px;color:#222;");
  });
  [["LL", 152, 421], ["ES", 134, 513], ["CIS", 142, 603], ["ScS", 80, 623], ["ChS", 398, 412], ["FS", 429, 604], ["MES", 543, 417], ["SrS", 594, 627]].forEach(t =>
  {
    addLabel(t[0], t[1], t[2], "tag");
  });
}

initPage();
</script>
</body>
</html>
